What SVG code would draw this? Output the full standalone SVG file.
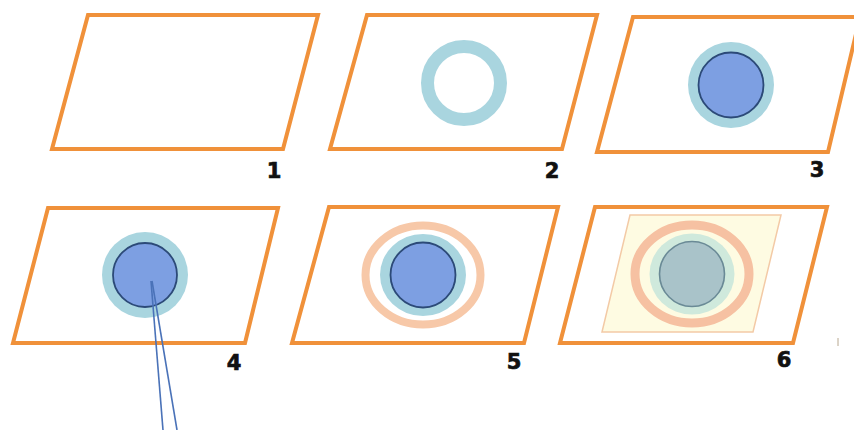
<svg xmlns="http://www.w3.org/2000/svg" width="854" height="430" viewBox="0 0 854 430">
<defs>
<style>
.frame{fill:#ffffff;stroke:#f0913a;stroke-width:4;stroke-linejoin:miter}
.halo{fill:#a9d5df}
.core{fill:#7d9fe2;stroke:#2c4a78;stroke-width:1.8}
.ring{fill:none;stroke:#a9d5df;stroke-width:13}
.oring{fill:none;stroke:#f7c8a8;stroke-width:8}
.lbl{font-family:"DejaVu Sans",Verdana,sans-serif;font-weight:bold;font-size:21px;fill:#111;stroke:#111;stroke-width:0.7;text-anchor:middle}
.wire{stroke:#4a72b8;stroke-width:1.6;fill:none}
</style>
</defs>
<rect width="854" height="430" fill="#ffffff"/>
<g id="panel1">
<polygon class="frame" points="88,15 318,15 283,149 52,149"/>
<text class="lbl" x="274" y="178">1</text>
</g>
<g id="panel2">
<polygon class="frame" points="367,15 597,15 562,149 330,149"/>
<circle class="ring" cx="464" cy="83" r="36.5"/>
<text class="lbl" x="552" y="178">2</text>
</g>
<g id="panel3">
<polygon class="frame" points="633,17 860,17 828,152 597,152"/>
<circle class="halo" cx="731" cy="85" r="43"/>
<circle class="core" cx="731" cy="85" r="32.5"/>
<text class="lbl" x="817" y="177">3</text>
</g>
<g id="panel4">
<polygon class="frame" points="48,208 278,208 245,343 13,343"/>
<circle class="halo" cx="145" cy="275" r="43"/>
<circle class="core" cx="145" cy="275" r="32"/>
<text class="lbl" x="234" y="370">4</text>
</g>
<g id="panel5">
<polygon class="frame" points="329,207 558,207 524,343 292,343"/>
<ellipse class="oring" cx="423" cy="275" rx="57.5" ry="49.5"/>
<ellipse class="halo" cx="423" cy="275" rx="43" ry="41"/>
<circle class="core" cx="423" cy="275" r="32.5"/>
<text class="lbl" x="514" y="369">5</text>
</g>
<g id="panel6">
<polygon class="frame" points="595,207 827,207 793,343 560,343"/>
<polygon points="630,215 781,215 753,332 602,332" fill="#fefbe2" stroke="#f3caa6" stroke-width="1.5"/>
<ellipse cx="692" cy="274" rx="57" ry="49" fill="none" stroke="#f6c1a2" stroke-width="9"/>
<ellipse cx="692" cy="274" rx="42.5" ry="40.5" fill="#cfe9dc"/>
<circle cx="692" cy="274" r="32.5" fill="#a9c3c9" stroke="#6a8a96" stroke-width="1.6"/>
<text class="lbl" x="784" y="367">6</text>
<line x1="838" y1="338" x2="838" y2="346" stroke="#b8a890" stroke-width="1"/>
</g>
<g id="connectors">
<line class="wire" x1="151" y1="281" x2="163" y2="430"/>
<line class="wire" x1="152" y1="281" x2="177" y2="430"/>
</g>
</svg>
